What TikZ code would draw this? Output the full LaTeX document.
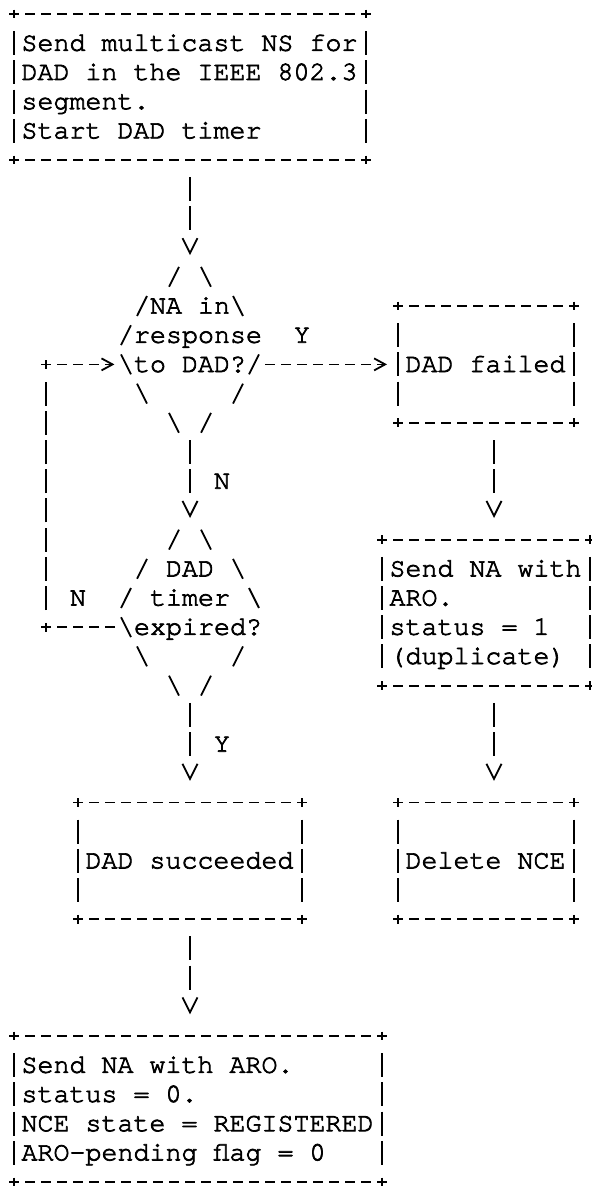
\documentclass[tikz,border=0pt]{standalone}
\usepackage{tikz}
\usetikzlibrary{arrows.meta, shapes.geometric}

% courier-like face, one char = 8pt wide; LM mono if it is missing
\suppressfontnotfounderror=1
\font\chartface="[texgyrecursor-regular.otf]" at 13.3333pt
\suppressfontnotfounderror=0
\ifx\chartface\nullfont
  \font\chartface="[lmmono10-regular.otf]" at 15.2381pt
\fi
\newcommand\chartfont{\chartface\baselineskip=14.6pt\relax\frenchspacing
  \special{pdf:literal 2 Tr 0.35 w}}
% full-width spaces and a row-high strut
\newcommand\rowstrut{\spaceskip=8pt\xspaceskip=8pt\relax\rule[-3.5pt]{0pt}{14.6pt}}

\begin{document}
\begin{tikzpicture}[x=8pt, y=-14.6pt, line width=0.9pt,
  hdash/.style={dash pattern=on 5pt off 3pt},
  vbar/.style={dash pattern=on 12pt off 2.6pt},
  downarrow/.style={-{Straight Barb[length=7.5pt,width=7.5pt]},
    dash pattern=on 12pt off 2.6pt on 12pt off 30pt, shorten <=8.6pt, shorten >=10.8pt},
  sidearrow/.style={hdash, -{Straight Barb[length=5.5pt,width=6pt]}},
  box/.style={rectangle, inner sep=0pt, inner xsep=3.75pt, outer sep=0pt,
    align=left, font=\chartfont,
    append after command={
      (\tikzlastnode.north west) edge[draw, hdash, shorten <=-2.5pt, shorten >=-2.5pt] (\tikzlastnode.north east)
      (\tikzlastnode.south west) edge[draw, hdash, shorten <=-2.5pt, shorten >=-2.5pt] (\tikzlastnode.south east)
      (\tikzlastnode.north west) edge[draw, vbar, shorten <=8.6pt, shorten >=8.6pt] (\tikzlastnode.south west)
      (\tikzlastnode.north east) edge[draw, vbar, shorten <=8.6pt, shorten >=8.6pt] (\tikzlastnode.south east)
      ([yshift=2.2pt]\tikzlastnode.north west) edge[draw] ([yshift=-2.2pt]\tikzlastnode.north west)
      ([yshift=2.2pt]\tikzlastnode.north east) edge[draw] ([yshift=-2.2pt]\tikzlastnode.north east)
      ([yshift=2.2pt]\tikzlastnode.south west) edge[draw] ([yshift=-2.2pt]\tikzlastnode.south west)
      ([yshift=2.2pt]\tikzlastnode.south east) edge[draw] ([yshift=-2.2pt]\tikzlastnode.south east)}},
  choice/.style={diamond, inner sep=0pt, outer sep=0pt,
    minimum width=72pt, minimum height=87.6pt},
  ask/.style={font=\chartfont, align=left, inner sep=0pt, xshift=4pt, yshift=7.3pt},
  lbl/.style={font=\chartfont, inner sep=0pt}]

  \useasboundingbox (-7pt,7pt) rectangle (288.5pt,-589pt);

  \node[box, text width=168.5pt, minimum height=73pt] (ns) at (11,2.5)
    {\rowstrut Send multicast NS for\\DAD in the IEEE 802.3\\segment.\\Start DAD timer\rowstrut};
  \node[choice, label={[ask]center:{\rowstrut\hspace*{8pt}NA in\\response\\to DAD?\rowstrut}}] (na) at (11,11.5) {};
  \node[choice, label={[ask]center:{\rowstrut\hspace*{16pt}DAD\\\hspace*{8pt}timer\\expired?\rowstrut}}] (timer) at (11,20.5) {};
  \node[box, text width=80.5pt, minimum height=58.4pt] (failed) at (29.5,12) {\rowstrut DAD failed};
  \node[box, text width=96.5pt, minimum height=73pt] (dup) at (29.5,20.5)
    {\rowstrut Send NA with\\ARO.\\status = 1\\(duplicate)\rowstrut};
  \node[box, text width=104.5pt, minimum height=58.4pt] (ok) at (11,29) {\rowstrut DAD succeeded};
  \node[box, text width=80.5pt, minimum height=58.4pt] (del) at (29.5,29) {\rowstrut Delete NCE};
  \node[box, text width=176.5pt, minimum height=73pt] (reg) at (11.5,37.5)
    {\rowstrut Send NA with ARO.\\status = 0.\\NCE state = REGISTERED\\ARO-pending flag = 0\rowstrut};

  % the slanted sides of both tests
  \foreach \d in {na, timer} {
    \foreach \x/\y in {-1/-2.5, -3/-1.5, -4/-0.5, 3/1.5, 1/2.5}
      \draw[shift={(\d)}] (\x-0.31,\y+0.34) -- ++(0.62,-0.68);
    \foreach \x/\y in {1/-2.5, 3/-1.5, -4/0.5, -3/1.5, -1/2.5}
      \draw[shift={(\d)}] (\x-0.31,\y-0.34) -- ++(0.62,0.68);
  }
  \draw[shift={(na)}] (3.69,0.84) -- ++(0.62,-0.68);
  \draw[shift={(timer)}] (3.69,-0.84) -- ++(0.62,0.68);

  \draw[downarrow, shorten >=3.5pt] (ns.south) -- (na.north);
  \draw[downarrow, shorten <=1.3pt, shorten >=3.5pt] (na.south) -- node[lbl, pos=0.5, xshift=16pt] {N} (timer.north);
  \draw[downarrow, shorten <=1.3pt] (timer.south) -- node[lbl, pos=0.43, xshift=16pt] {Y} (ok.north);
  \draw[downarrow] (ok.south) -- (ok.south |- reg.north);
  \draw[downarrow] ([xshift=4pt]failed.south) -- ([xshift=4pt]failed.south |- dup.north);
  \draw[downarrow] ([xshift=4pt]dup.south) -- ([xshift=4pt]dup.south |- del.north);
  \draw[sidearrow, shorten <=1.5pt, shorten >=5.5pt] ([yshift=-7.3pt]na.east) -- node[lbl, pos=0.294, yshift=14.6pt] {Y} (failed.west);

  % timer not expired: back to the first test
  \coordinate (loopb) at (2,21);
  \coordinate (loopt) at (2,12);
  \draw[hdash, shorten <=1.5pt, shorten >=-2.5pt] ([yshift=-7.3pt]timer.west) -- node[lbl, pos=0.556, yshift=14.6pt] {N} (loopb);
  \draw[vbar, shorten <=8.6pt, shorten >=8.6pt] (loopb) -- (loopt);
  \draw[sidearrow, shorten <=-2.5pt, shorten >=1.8pt] (loopt) -- ([yshift=-7.3pt]na.west);
  \draw ([yshift=2.2pt]loopb) -- ([yshift=-2.2pt]loopb);
  \draw ([yshift=2.2pt]loopt) -- ([yshift=-2.2pt]loopt);
\end{tikzpicture}
\end{document}
